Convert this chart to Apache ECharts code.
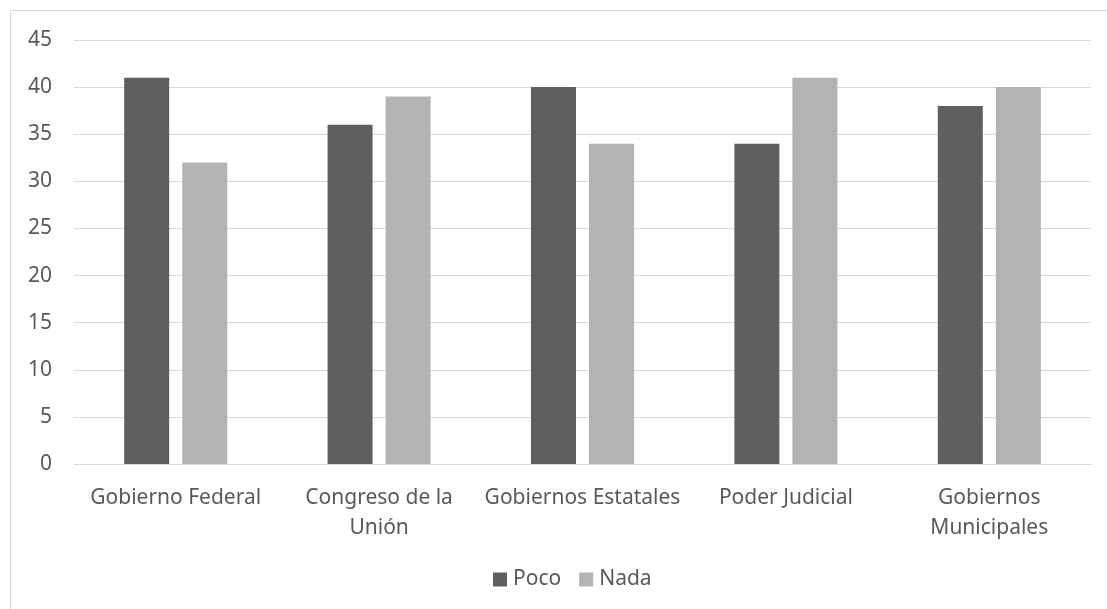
<!DOCTYPE html>
<html>
<head>
<meta charset="utf-8">
<script src="https://cdn.jsdelivr.net/npm/echarts@6/dist/echarts.min.js"></script>
<style>
html,body{margin:0;padding:0;background:#fff;}
#chart{width:1107px;height:609px;}
</style>
</head>
<body>
<div id="chart"></div>
<script>
const categories = ['Gobierno Federal', 'Congreso de la Unión', 'Gobiernos Estatales', 'Poder Judicial', 'Gobiernos Municipales'];
const categoryLabels = ['Gobierno Federal', 'Congreso de la\nUnión', 'Gobiernos Estatales', 'Poder Judicial', 'Gobiernos\nMunicipales'];
const poco = [41, 36, 40, 34, 38];
const nada = [32, 39, 34, 41, 40];
const seriesNames = ['Poco', 'Nada'];
const yTicks = [0, 5, 10, 15, 20, 25, 30, 35, 40, 45];

const FONT = 'Noto Sans';
const TXT = '#595959';

const chart = echarts.init(document.getElementById('chart'), null, {renderer: 'canvas'});
chart.setOption({
  animation: false,
  backgroundColor: '#ffffff',
  textStyle: {fontFamily: FONT},
  graphic: [{
    type: 'rect',
    shape: {x: 10.5, y: 10.5, width: 1120, height: 620},
    style: {fill: 'none', stroke: '#d9d9d9', lineWidth: 1},
    silent: true
  }],
  grid: {left: 74, right: 16, top: 40, bottom: 145, containLabel: false},
  legend: {
    data: seriesNames,
    top: 564,
    left: 488,
    itemWidth: 14,
    itemHeight: 14,
    itemGap: 18,
    icon: 'rect',
    textStyle: {fontFamily: FONT, fontSize: 21, color: TXT, padding: [0, 0, 0, 1]}
  },
  xAxis: {
    type: 'category',
    data: categories,
    axisLine: {show: true, lineStyle: {color: '#d9d9d9', width: 1}},
    axisTick: {show: false},
    axisLabel: {
      fontFamily: FONT, fontSize: 21, color: TXT, margin: 19, lineHeight: 30,
      interval: 0,
      formatter: function (v) { return categoryLabels[categories.indexOf(v)]; }
    }
  },
  yAxis: {
    type: 'value',
    min: yTicks[0],
    max: yTicks[yTicks.length - 1],
    interval: 5,
    axisLine: {show: false},
    axisTick: {show: false},
    splitLine: {lineStyle: {color: '#d9d9d9', width: 1}},
    axisLabel: {fontFamily: FONT, fontSize: 21, color: TXT, margin: 22}
  },
  series: [
    {name: seriesNames[0], type: 'bar', data: poco, barWidth: 45, barGap: '29%',
     itemStyle: {color: '#5f5f5f'}},
    {name: seriesNames[1], type: 'bar', data: nada, barWidth: 45, barGap: '29%',
     itemStyle: {color: '#b3b3b3'}}
  ]
});
</script>
</body>
</html>
